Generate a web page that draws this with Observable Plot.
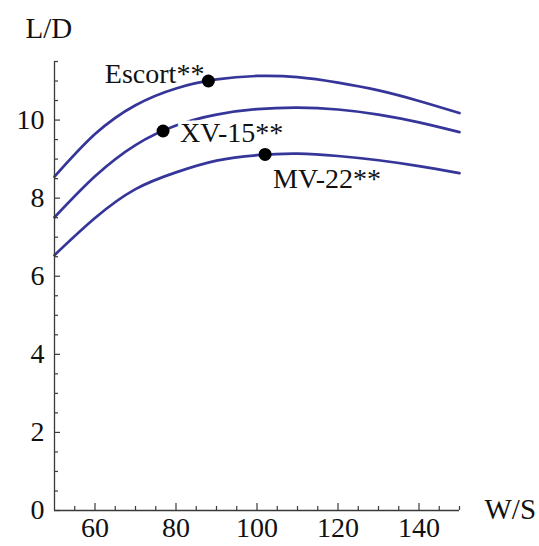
<!DOCTYPE html>
<html>
<head>
<meta charset="utf-8">
<script src="https://cdn.jsdelivr.net/npm/d3@7"></script>
<script src="https://cdn.jsdelivr.net/npm/@observablehq/plot@0.6"></script>
<style>
  html, body { margin: 0; padding: 0; background: #fff; }
</style>
</head>
<body>
<div id="chart"></div>
<script>
// W/S values at which the curves were read
const wingLoading = [50, 60, 70, 80, 90, 100, 110, 120, 130, 140, 150];
// L/D curves (top, middle, bottom)
const curveTop    = [8.55, 9.64, 10.38, 10.81, 11.04, 11.13, 11.10, 10.96, 10.76, 10.49, 10.18];
const curveMiddle = [7.51, 8.56, 9.36, 9.86, 10.14, 10.28, 10.32, 10.27, 10.14, 9.94, 9.69];
const curveBottom = [6.54, 7.49, 8.23, 8.66, 8.96, 9.10, 9.14, 9.08, 8.97, 8.82, 8.64];

// Aircraft points
const aircraftNames = ["Escort**", "XV-15**", "MV-22**"];
const aircraftWS    = [88, 76.8, 102];
const aircraftLD    = [11.0, 9.72, 9.12];

// Ticks
const xMajorTicks = [60, 80, 100, 120, 140];
const xMinorTicks = [55, 65, 70, 75, 85, 90, 95, 105, 110, 115, 125, 130, 135, 145, 150];
const yMajorTicks = [0, 2, 4, 6, 8, 10];
const yMinorTicks = [0.5, 1, 1.5, 2.5, 3, 3.5, 4.5, 5, 5.5, 6.5, 7, 7.5, 8.5, 9, 9.5, 10.5, 11, 11.5];

const xLabel = "W/S";
const yLabel = "L/D";

const series = [curveTop, curveMiddle, curveBottom];
const rows = series.flatMap((vals, s) => wingLoading.map((w, i) => ({series: s, ws: w, ld: vals[i]})));
const points = aircraftNames.map((name, i) => ({name, ws: aircraftWS[i], ld: aircraftLD[i]}));

const lineColor = "#36369a";
const axisColor = "#3a3a3a";
const font = "Liberation Serif, Times New Roman, serif";

const chart = Plot.plot({
  width: 539,
  height: 546,
  marginLeft: 54,
  marginRight: 80,
  marginTop: 61,
  marginBottom: 36,
  style: {fontFamily: font, fontSize: "28px", background: "white", color: "#111"},
  x: {domain: [50, 150]},
  y: {domain: [0, 11.5]},
  marks: [
    Plot.line(rows, {x: "ws", y: "ld", z: "series", curve: "natural", stroke: lineColor, strokeWidth: 2.7}),
    // axis lines
    Plot.ruleY([0], {stroke: axisColor, strokeWidth: 1.3}),
    Plot.ruleX([50], {stroke: axisColor, strokeWidth: 1.3}),
    // inward ticks
    Plot.axisX(xMinorTicks, {tickSize: -4, tickFormat: () => "", label: null, stroke: axisColor, strokeWidth: 1.2}),
    Plot.axisX(xMajorTicks, {tickSize: -7, tickFormat: () => "", label: null, stroke: axisColor, strokeWidth: 1.2}),
    Plot.axisY(yMinorTicks, {tickSize: -4, tickFormat: () => "", label: null, stroke: axisColor, strokeWidth: 1.2}),
    Plot.axisY(yMajorTicks, {tickSize: -6, tickFormat: () => "", label: null, stroke: axisColor, strokeWidth: 1.2}),
    // tick labels
    Plot.axisX(xMajorTicks, {tickSize: 0, tickPadding: 7, label: null, fill: "#111", fontFamily: font, fontSize: 28, fontVariant: "normal"}),
    Plot.axisY(yMajorTicks, {tickSize: 0, tickPadding: 10, label: null, fill: "#111", fontFamily: font, fontSize: 28, fontVariant: "normal"}),
    // axis titles
    Plot.text([yLabel], {frameAnchor: "top-left", textAnchor: "start", lineAnchor: "bottom", dx: -29, dy: -24, fill: "#111", fontFamily: font, fontSize: 29}),
    Plot.text([xLabel], {frameAnchor: "bottom-right", textAnchor: "start", lineAnchor: "bottom", dx: 25, dy: 8, fill: "#111", fontFamily: font, fontSize: 29}),
    // aircraft labels
    Plot.text(points.filter(d => d.name === "Escort**"), {x: "ws", y: "ld", text: "name", textAnchor: "end", lineAnchor: "bottom", dx: -4, dy: 2, fill: "#111", stroke: "white", strokeWidth: 4, fontFamily: font, fontSize: 28}),
    Plot.text(points.filter(d => d.name === "XV-15**"), {x: "ws", y: "ld", text: "name", textAnchor: "start", lineAnchor: "bottom", dx: 17, dy: 11, fill: "#111", stroke: "white", strokeWidth: 7, fontFamily: font, fontSize: 28}),
    Plot.text(points.filter(d => d.name === "MV-22**"), {x: "ws", y: "ld", text: "name", textAnchor: "start", lineAnchor: "bottom", dx: 8, dy: 34, fill: "#111", fontFamily: font, fontSize: 28}),
    // aircraft dots
    Plot.dot(points, {x: "ws", y: "ld", r: 6.5, fill: "black"})
  ]
});
document.getElementById("chart").appendChild(chart);
</script>
</body>
</html>
